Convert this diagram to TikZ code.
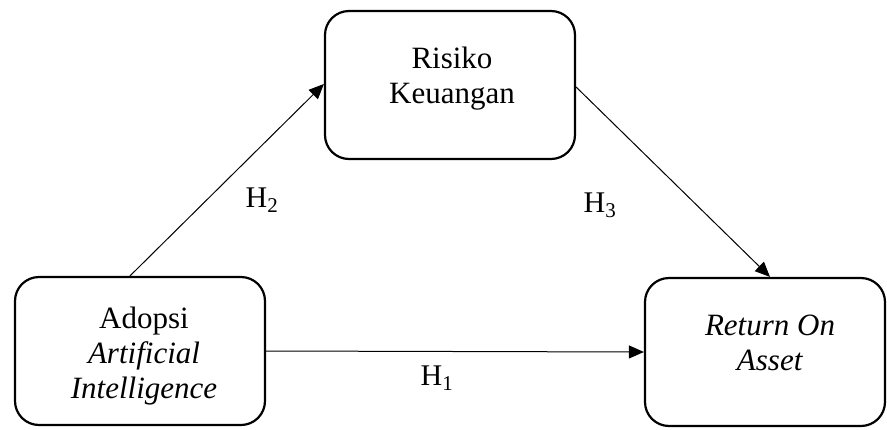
\documentclass[tikz,border=0pt]{standalone}
\usepackage{fontspec}
\setmainfont{Liberation Serif}
\usetikzlibrary{arrows.meta}
\begin{document}
\begin{tikzpicture}[x=1pt,y=-1pt,
  box/.style={draw, line width=2.2pt, rounded corners=24pt, minimum width=250pt, minimum height=148pt, inner sep=0pt},
  txt/.style={align=center, anchor=base, inner sep=0pt, font=\fontsize{31}{35}\selectfont},
  lbl/.style={inner sep=0pt, font=\fontsize{30}{34}\selectfont},
  arr/.style={line width=1pt, -{Triangle[length=15pt,width=13pt]}}]
\useasboundingbox (0,0) rectangle (887,429);
% boxes
\node[box] (ai) at (140,351) {};
\node[box] (rk) at (450,85) {};
\node[box, minimum width=240pt] (roa) at (765,352) {};
% box texts (anchored on the baseline of the last line)
\node[txt] (tai) at (144,398) {Adopsi\\\textit{Artificial}\\\textit{Intelligence}};
\node[txt] (trk) at (452,103) {Risiko\\Keuangan};
\node[txt] (troa) at (770,370) {\textit{Return On}\\\textit{Asset}};
% connectors
\draw[arr] ([xshift=-10pt]ai.north) -- ([yshift=1pt]rk.west);
\draw[arr] ([yshift=-2pt]rk.east) -- ([xshift=5pt]roa.north);
\draw[arr] (ai.east) -- (roa.west);
% hypothesis labels
\node[lbl] (h2) at (262,200) {H\textsubscript{2}};
\node[lbl] (h3) at (600,205) {H\textsubscript{3}};
\node[lbl] (h1) at (437,378) {H\textsubscript{1}};
\end{tikzpicture}
\end{document}
